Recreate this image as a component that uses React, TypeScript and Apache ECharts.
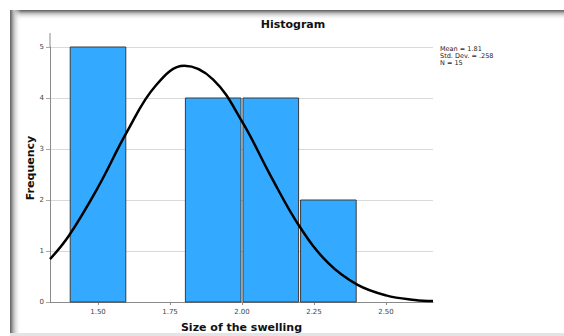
import React, { useEffect, useRef } from "react";
import * as echarts from "echarts";

const binEdges = [1.4, 1.6, 1.8, 2.0, 2.2, 2.4];
const binCounts = [5, 0, 4, 4, 2];
const curveX = [1.3333, 1.4, 1.5, 1.6, 1.7, 1.8, 1.9, 2.0, 2.1, 2.2, 2.3, 2.4, 2.5, 2.6, 2.6633];
const curveY = [0.84, 1.31, 2.25, 3.33, 4.24, 4.63, 4.36, 3.54, 2.47, 1.48, 0.76, 0.34, 0.13, 0.04, 0.02];
const xTicks = [1.5, 1.75, 2.0, 2.25, 2.5];
const statsLines = ["Mean = 1.81", "Std. Dev. = .258", "N = 15"];

const FONT = "'DejaVu Sans', 'Liberation Sans', sans-serif";

export default function App() {
  const ref = useRef<HTMLDivElement>(null);
  useEffect(() => {
    if (!ref.current) return;
    const chart = echarts.init(ref.current, null, { renderer: "svg" });
    const bars = binCounts
      .map((c, i) => [binEdges[i], binEdges[i + 1], c])
      .filter((d) => d[2] > 0);
    chart.setOption({
      animation: false,
      backgroundColor: "#ffffff",
      textStyle: { fontFamily: FONT },
      grid: { left: 50, right: 131, top: 47, bottom: 34, outerBoundsMode: "none", containLabel: false },
      xAxis: {
        type: "value",
        min: 1.3333,
        max: 2.6633,
        splitLine: { show: false },
        axisLine: { lineStyle: { color: "#8a8a8a", width: 1 } },
        axisTick: { show: true, customValues: xTicks, length: 3, lineStyle: { color: "#8a8a8a" } },
        axisLabel: {
          customValues: xTicks,
          formatter: (v: number) => v.toFixed(2),
          fontSize: 7,
          color: "#444",
          margin: 6,
          fontFamily: FONT,
        },
        name: "Size of the swelling",
        nameLocation: "middle",
        nameGap: 20,
        nameTextStyle: { fontSize: 11, fontWeight: "bold", color: "#111", fontFamily: FONT },
      },
      yAxis: {
        type: "value",
        min: 0,
        max: 5,
        interval: 1,
        axisLine: { show: true, lineStyle: { color: "#8a8a8a", width: 1 } },
        axisTick: { show: true, length: 4, lineStyle: { color: "#aaa" } },
        axisLabel: { fontSize: 7, color: "#444", margin: 6, fontFamily: FONT },
        splitLine: { show: true, lineStyle: { color: "#d9d9d9", width: 1 } },
      },
      series: [
        {
          type: "custom",
          data: bars,
          z: 2,
          renderItem: (params: any, api: any) => {
            const p0 = api.coord([api.value(0), api.value(2)]);
            const p1 = api.coord([api.value(1), 0]);
            return {
              type: "rect",
              shape: { x: p0[0] + 1, y: p0[1], width: p1[0] - p0[0] - 2, height: p1[1] - p0[1] },
              style: { fill: "#33aaff", stroke: "#3a3a3a", lineWidth: 1 },
            };
          },
        },
        {
          type: "line",
          data: curveX.map((x, i) => [x, curveY[i]]),
          smooth: 0.4,
          showSymbol: false,
          z: 5,
          lineStyle: { color: "#000", width: 2.5 },
        },
      ],
      graphic: [
        {
          type: "rect",
          shape: { x: 10, y: 10, width: 554, height: 10 },
          style: {
            fill: new echarts.graphic.LinearGradient(0, 0, 0, 1, [
              { offset: 0, color: "#5e5e5e" },
              { offset: 0.35, color: "#c0c0c0" },
              { offset: 1, color: "rgba(255,255,255,0)" },
            ]),
          },
          z: 10,
        },
        {
          type: "rect",
          shape: { x: 10, y: 10, width: 11, height: 323 },
          style: {
            fill: new echarts.graphic.LinearGradient(0, 0, 1, 0, [
              { offset: 0, color: "#5e5e5e" },
              { offset: 0.35, color: "#c0c0c0" },
              { offset: 1, color: "rgba(255,255,255,0)" },
            ]),
          },
          z: 10,
        },
        {
          type: "rect",
          shape: { x: 10, y: 333, width: 554, height: 3 },
          style: { fill: "#e4e4e4" },
          z: 10,
        },
        {
          type: "line",
          shape: { x1: 50, y1: 33, x2: 50, y2: 47 },
          style: { stroke: "#8a8a8a", lineWidth: 1 },
          z: 10,
        },
        {
          type: "text",
          x: 293,
          y: 24,
          style: {
            text: "Histogram",
            font: `bold 11px ${FONT}`,
            fill: "#111",
            align: "center",
            verticalAlign: "middle",
          },
        },
        {
          type: "text",
          x: 30,
          y: 168,
          rotation: Math.PI / 2,
          style: {
            text: "Frequency",
            font: `bold 11px ${FONT}`,
            fill: "#111",
            align: "center",
            verticalAlign: "middle",
          },
        },
        {
          type: "text",
          x: 440,
          y: 45,
          style: {
            text: statsLines.join("\n"),
            font: `6.5px ${FONT}`,
            lineHeight: 7,
            fill: "#222",
            align: "left",
            verticalAlign: "top",
          },
        },
      ],
    });
    return () => chart.dispose();
  }, []);
  return (
    <div
      ref={ref}
      style={{ position: "absolute", left: 0, top: 0, width: 564, height: 336 }}
    />
  );
}
